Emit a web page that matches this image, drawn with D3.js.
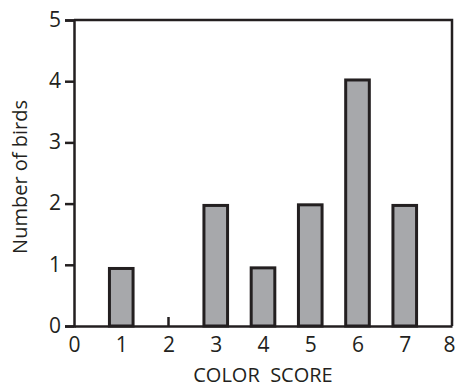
<!DOCTYPE html>
<html>
<head>
<meta charset="utf-8">
<script src="https://cdn.jsdelivr.net/npm/d3@7"></script>
<style>
  body { margin: 0; background: #fff; }
  text { font-family: "Open Sans", "Noto Sans", sans-serif; fill: #231f20; }
</style>
</head>
<body>
<script>
// data
const scores = [1, 2, 3, 4, 5, 6, 7];
const birds = [0.94, 0, 1.97, 0.95, 1.98, 4.02, 1.97];
const xTicks = [0, 1, 2, 3, 4, 5, 6, 7, 8];
const yTicks = [0, 1, 2, 3, 4, 5];

const W = 456, H = 390;
const ink = "#231f20";

const svg = d3.select("body").append("svg")
  .attr("width", W)
  .attr("height", H);

const x = d3.scaleLinear().domain([0, 8]).range([74, 452]);
const y = d3.scaleLinear().domain([0, 5]).range([326, 20]);

// frame: top and right edges
svg.append("path")
  .attr("d", `M${x(0)},${y(5)}H${x(8)}V${y(0)}`)
  .attr("fill", "none")
  .attr("stroke", ink)
  .attr("stroke-width", 2.5);

// bars
const bw = x(0.5) - x(0);
svg.selectAll("rect.bar")
  .data(scores.filter((d, i) => birds[i] > 0))
  .enter().append("rect")
  .attr("class", "bar")
  .attr("x", d => x(d) - bw / 2)
  .attr("y", d => y(birds[scores.indexOf(d)]))
  .attr("width", bw)
  .attr("height", d => y(0) - y(birds[scores.indexOf(d)]))
  .attr("fill", "#a7a8ab")
  .attr("stroke", ink)
  .attr("stroke-width", 3);

// zero-count marker
svg.selectAll("line.zero")
  .data(scores.filter((d, i) => birds[i] === 0))
  .enter().append("line")
  .attr("class", "zero")
  .attr("x1", d => x(d)).attr("x2", d => x(d))
  .attr("y1", y(0)).attr("y2", y(0) - 9)
  .attr("stroke", ink)
  .attr("stroke-width", 2.5);

// y axis
const yAxis = svg.append("g")
  .attr("transform", `translate(${x(0)},0)`)
  .call(d3.axisLeft(y).tickValues(yTicks).tickSize(9).tickPadding(4).tickFormat(d3.format("d")));
yAxis.select(".domain").attr("stroke", ink).attr("stroke-width", 2.5);
yAxis.selectAll(".tick line").attr("stroke", ink).attr("stroke-width", 2.5);
yAxis.selectAll(".tick text").style("font-size", "21px").attr("fill", ink).attr("dy", "0.3em");

// x axis (no tick marks)
const xAxis = svg.append("g")
  .attr("transform", `translate(0,${y(0)})`)
  .call(d3.axisBottom(x).tickValues(xTicks).tickSize(0).tickPadding(11).tickFormat(d3.format("d")));
xAxis.select(".domain").attr("stroke", ink).attr("stroke-width", 2.5);
xAxis.selectAll(".tick text").style("font-size", "21px").attr("fill", ink);
// keep the last label inside the window
xAxis.selectAll(".tick text").filter(d => d === 8).attr("dx", -3);

// axis titles
svg.append("text")
  .attr("x", 263).attr("y", 382)
  .attr("text-anchor", "middle")
  .style("font-size", "20px")
  .style("white-space", "pre")
  .attr("xml:space", "preserve")
  .text("COLOR  SCORE");

svg.append("text")
  .attr("transform", "translate(27,177) rotate(-90)")
  .attr("text-anchor", "middle")
  .style("font-size", "20px")
  .text("Number of birds");
</script>
</body>
</html>
